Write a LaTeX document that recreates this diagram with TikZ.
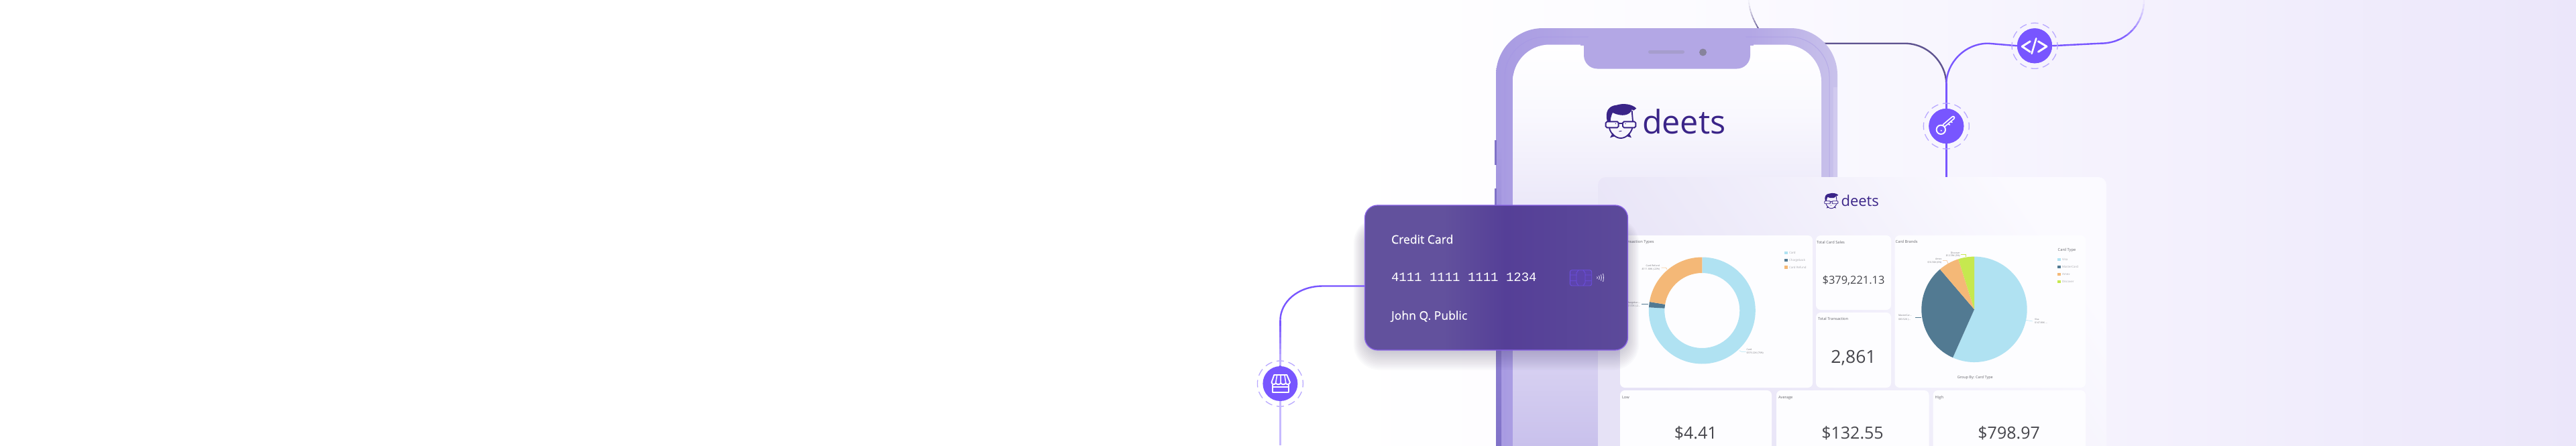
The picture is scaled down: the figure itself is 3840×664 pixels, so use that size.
\documentclass[tikz,border=0pt]{standalone}
\usepackage{fontspec}
\setmainfont{Open Sans}
\newfontfamily\monof{Liberation Mono}
\newfontfamily\cardf[FakeBold=0.3]{Open Sans}
\definecolor{bgA}{HTML}{FFFFFF}\definecolor{bgB}{HTML}{FBFAFF}\definecolor{bgC}{HTML}{F4F1FD}\definecolor{bgD}{HTML}{EBE6FA}
\definecolor{vio}{HTML}{7856FF}\definecolor{ringc}{HTML}{B9A9FF}\definecolor{darkline}{HTML}{5F5490}
\definecolor{frA}{HTML}{A89BE2}\definecolor{frB}{HTML}{B3A7E5}\definecolor{frC}{HTML}{C9C2EB}\definecolor{frE}{HTML}{8072C8}
\definecolor{scA}{HTML}{C9C1EC}\definecolor{scB}{HTML}{DCD6F3}\definecolor{scC}{HTML}{ECE9F9}\definecolor{scD}{HTML}{F9F8FE}
\definecolor{cdA}{HTML}{62519D}\definecolor{cdB}{HTML}{553F97}\definecolor{cdC}{HTML}{5C4A9A}\definecolor{cdEdge}{HTML}{8A63E8}
\definecolor{logoc}{HTML}{3A2488}\definecolor{shadowc}{HTML}{2A2050}
\definecolor{plblue}{HTML}{B0E2F2}\definecolor{pldark}{HTML}{527A92}\definecolor{plorange}{HTML}{F4B877}\definecolor{pllime}{HTML}{C6E84F}
\definecolor{ttl}{HTML}{66666C}\definecolor{valc}{HTML}{46464C}\definecolor{lgd}{HTML}{A8A8AE}\definecolor{lbl}{HTML}{77777D}
\definecolor{pnD}{HTML}{E6E2F6}\definecolor{pnL}{HTML}{FBFAFF}\definecolor{tile}{HTML}{FDFDFF}
\pgfdeclarehorizontalshading{bgshade}{100bp}{color(0bp)=(bgA);color(51bp)=(bgA);color(58.9bp)=(bgB);color(66.7bp)=(bgC);color(75bp)=(bgD);color(100bp)=(bgD)}
\pgfdeclarehorizontalshading{frameshade}{100bp}{color(0bp)=(frA);color(25bp)=(frA);color(37.9bp)=(frB);color(62.2bp)=(frB);color(75bp)=(frC);color(100bp)=(frC)}
\pgfdeclareverticalshading{screenshade}{100bp}{color(0bp)=(scA);color(25bp)=(scA);color(38.7bp)=(scB);color(55.5bp)=(scC);color(66.3bp)=(scD);color(75bp)=(white);color(100bp)=(white)}
\pgfdeclarehorizontalshading{cardshade}{100bp}{color(0bp)=(cdA);color(25bp)=(cdA);color(40bp)=(cdA);color(51.7bp)=(cdB);color(75bp)=(cdC);color(100bp)=(cdC)}
\newcommand\fsz[1]{\fontsize{#1}{#1}\selectfont}
\tikzset{
 txt/.style={inner sep=0pt,outer sep=0pt,anchor=base west},
 txtr/.style={inner sep=0pt,outer sep=0pt,anchor=base east},
 txtc/.style={inner sep=0pt,outer sep=0pt,anchor=base},
 title/.style={txt,text=ttl,font=\fsz{5.7}},
 value/.style={txtc,text=valc,font=\fsz{25}},
 legend/.style={txt,text=lgd,font=\fsz{4.4}},
 plabel/.style={text=lbl,font=\fsz{3.5}},
 conn/.style={line width=2.4pt,vio},
 icon/.style={circle,fill=vio,inner sep=0pt,minimum size=52pt},
 ring/.style={draw=ringc,line width=1.3pt,dash pattern=on 11pt off 6.8pt,dash phase=5.5pt},
 glyph/.style={draw=white,line cap=round,line join=round},
 tilebox/.style={fill=tile,rounded corners=7pt},
 cardtext/.style={txt,text=white,font=\cardf\fsz{17.6}},
}
\newcommand\deetslogo[4]{%
 \begin{scope}[shift={(#1,#2)},x=#3pt,y=-#3pt,line width=#4pt,draw=logoc,fill=logoc]
  \fill (198,154) .. controls (186,110) and (203,83) .. (240,80) .. controls (270,70) and (310,76) .. (328,95) -- (316,104) -- (308,100) .. controls (300,125) and (265,135) .. (222,114) .. controls (216,125) and (212,140) .. (212,154) -- cycle;
  \draw (308,105) -- (312,153);
  \draw[rounded corners=#4pt] (191,154) rectangle (248,181);
  \draw[rounded corners=#4pt] (267,154) rectangle (325,181);
  \draw (248,162) -- (267,162);
  \fill (235,163) circle[radius=#4pt*.4];
  \fill (279,163) circle[radius=#4pt*.4];
  \draw (207,181) .. controls (210,205) and (235,228) .. (258,228) .. controls (282,228) and (305,205) .. (310,181);
  \fill (210,226) -- (222,205) -- (233,219) -- cycle;
  \fill (306,226) -- (295,205) -- (284,219) -- cycle;
  \draw[line width=#4pt*.5] (250,198) -- (262,196);
 \end{scope}}
\newcommand\slice[6]{%
 \begin{scope}[shift={(#1,#2)},x=1pt,y=1pt]
  \fill[#6] (0,0) -- (#3:#5) arc[start angle=#3,end angle=#4,radius=#5pt] -- cycle;
 \end{scope}}
\newcommand\ringslice[7]{%
 \begin{scope}[shift={(#1,#2)},x=1pt,y=1pt]
  \fill[#7] (#3:#5) arc[start angle=#3,end angle=#4,radius=#5pt] -- (#4:#6) arc[start angle=#4,end angle=#3,radius=#6pt] -- cycle;
 \end{scope}}
\begin{document}
\begin{tikzpicture}[x=1pt,y=-1pt]
\useasboundingbox (0,0) rectangle (3840,664);
\clip (0,0) rectangle (3840,664);
\shade[shading=bgshade] (0,0) rectangle (3840,664);

\coordinate (topL) at (2606.7,0);
\coordinate (phoneTopIn) at (2622,44);
\coordinate (jn) at (2901.3,125);
\coordinate (brD) at (2838.8,64.7);
\coordinate (phoneR) at (2700,64.7);
\coordinate (brV) at (2963.8,64.7);
\coordinate (brV2) at (3131,64.7);
\coordinate (topR) at (3196,0);
\coordinate (panelTop) at (2901.3,270);
\coordinate (botL) at (1908.4,664);
\coordinate (lA) at (1908.4,478);
\coordinate (lB) at (1972,426.5);

\node[icon] (iconKey) at (2901.3,188) {};
\node[icon] (iconCode) at (3033,68.3) {};
\node[icon] (iconShop) at (1908.4,572) {};

\foreach \i/\p in {0/5,1/10,2/18,3/26,4/36,5/46,6/56,7/68,8/80,9/95}{
 \begin{scope}
 \clip (2590,\i*4.5) rectangle (2640,\i*4.5+4.6);
 \draw[line width=1.8pt,darkline!\p!bgB] (topL) .. controls (2608,18) and (2614,30) .. (phoneTopIn);
 \end{scope}}
\draw[line width=2.4pt,darkline] (jn) .. controls (2901.3,95) and (2875,64.7) .. (brD) -- (phoneR);
\draw[conn] (jn) .. controls (2901.3,95) and (2928,64.7) .. (brV) -- (iconCode.west);
\draw[conn] (iconCode.east) -- (brV2);
\foreach \i/\p in {0/6,1/12,2/20,3/30,4/42,5/55,6/68,7/82,8/92,9/100}{
 \begin{scope}
 \clip (3100,\i*6.5) rectangle (3210,\i*6.5+6.6);
 \draw[conn,vio!\p!bgC] (brV2) .. controls (3170,64.7) and (3196,35) .. (topR);
 \end{scope}}
\draw[conn] (iconKey.north) -- (jn);
\draw[conn] (iconKey.south) -- (panelTop);
\foreach \n in {iconKey,iconCode,iconShop}{\draw[ring] (\n) circle[radius=34pt];}
\node[icon] (iconKeyB) at (iconKey) {};
\node[icon] (iconCodeB) at (iconCode) {};

\draw[conn,ringc!80!white] (iconShop.south) -- (botL);

% phone frame
\begin{scope}
 \clip[rounded corners=70pt] (2230,42) rectangle (2739,1000);
 \shade[shading=frameshade] (2230,42) rectangle (2739,664);
 \shade[top color=frA,bottom color=frE] (2230,220) rectangle (2238,664);
 \fill[frB!60!white] (2733,130) rectangle (2739,664);
\end{scope}
\draw[frA!90!vio,opacity=.45,line width=1pt,rounded corners=60pt] (2243,55) rectangle (2727,1000);
\fill[frE] (2227.5,209) rectangle (2230.5,246);
\fill[frE] (2227.5,281) rectangle (2230.5,310);
\begin{scope}
 \clip[rounded corners=55pt] (2255,66.5) rectangle (2715,1000);
 \shade[shading=screenshade] (2255,66.5) rectangle (2715,664);
\end{scope}
\fill[frB,rounded corners=20pt] (2361,50) rectangle (2609,102.5);
\fill[frB] (2356,60) rectangle (2614,67.5);
\fill[frA!60!black!70!vio!60,rounded corners=2.5pt] (2457,75) rectangle (2511,80);
\fill[frA!50!black!70] (2538.5,78) circle[radius=5.5pt];
\deetslogo{2330}{130}{0.3333}{1.9}
\node[txt,text=logoc,font=\fsz{48.5}] (logoText) at (2448,199) {deets};

% dashboard panel
\begin{scope}
 \clip[rounded corners=12pt] (2382,264) rectangle (3140,1000);
 \shade[bottom color=pnD,top color=pnL,shading angle=-55] (2382,264) rectangle (3140,664);
\end{scope}
\deetslogo{2691.1}{276.6}{0.15}{0.9}
\node[txt,text=logoc,font=\fsz{22}] (logoTextB) at (2744.5,307.3) {deets};

\fill[tilebox] (2415,351) rectangle (2702,578);
\fill[tilebox] (2707,351) rectangle (2819,462);
\fill[tilebox] (2707,466) rectangle (2819,578);
\fill[tilebox] (2824.5,351) rectangle (3109,578);
\fill[tilebox] (2415,582) rectangle (2641,720);
\fill[tilebox] (2648,582) rectangle (2875.5,720);
\fill[tilebox] (2881.6,582) rectangle (3109,720);

\ringslice{2537.3}{463}{176.6}{450}{79.5}{56}{plblue}
\ringslice{2537.3}{463}{170.6}{176.6}{79.5}{56}{pldark}
\ringslice{2537.3}{463}{90}{170.6}{79.5}{56}{plorange}
\node[title] (tTypes) at (2418,362.7) {Transaction Types};
\fill[plblue] (2660.3,374.5) rectangle ++(4.4,4.4);
\fill[pldark] (2660.3,385.5) rectangle ++(4.4,4.4);
\fill[plorange] (2660.3,396.1) rectangle ++(4.4,4.4);
\node[legend] (lgA) at (2667,378.4) {Card};
\node[legend] (lgB) at (2667,389.4) {Chargeback};
\node[legend] (lgC) at (2667,400) {Card Refund};
\node[plabel,txtr] (pA) at (2474,397.5) {Card Refund};
\node[plabel,txtr] (pB) at (2474,402.5) {-\$111.68K (-22\%)};
\node[plabel,txtr] (pC) at (2444.7,452.2) {Chargebac...};
\node[plabel,txtr] (pD) at (2444.7,457.2) {\$1.57K (-2...};
\node[plabel,txt] (pE) at (2603.7,522.9) {Card};
\node[plabel,txt] (pF) at (2603.7,527.9) {\$379.22K (76\%)};
\draw[plorange,line width=.5pt] (2476.7,399) -- (2483.3,399) -- (2485,401.7);
\draw[pldark,line width=.5pt] (2447.3,453.3) -- (2457.3,453.3);
\draw[plblue,line width=.5pt] (2592.7,522.7) -- (2596.7,524.7) -- (2602.7,524.7);

\node[title] (tSales) at (2708,363) {Total Card Sales};
\node[txtc,text=valc,font=\fsz{16.4}] (vSales) at (2763,423.3) {\$379,221.13};
\node[title] (tTrans) at (2710,477.7) {Total Transaction};
\node[txtc,text=valc,font=\fsz{26.5}] (vTrans) at (2763,541) {2,861};

\slice{2943}{461.3}{246}{450}{78.7}{plblue}
\slice{2943}{461.3}{130.5}{246}{78.7}{pldark}
\slice{2943}{461.3}{107.6}{130.5}{78.7}{plorange}
\slice{2943}{461.3}{90}{107.6}{78.7}{pllime}
\node[title] (tBrands) at (2825.7,362) {Card Brands};
\node[title] (tCardType) at (3067.7,374) {Card Type};
\fill[plblue] (3067.3,384.8) rectangle ++(4.4,4.4);
\fill[pldark] (3067.3,395.8) rectangle ++(4.4,4.4);
\fill[plorange] (3067.3,406.8) rectangle ++(4.4,4.4);
\fill[pllime] (3067.3,417.8) rectangle ++(4.4,4.4);
\node[legend] (lgV) at (3074,388.7) {Visa};
\node[legend] (lgM) at (3074,399.7) {MasterCard};
\node[legend] (lgX) at (3074,410.7) {Amex};
\node[legend] (lgD) at (3074,421.7) {Discover};
\node[txtc,text=ttl,font=\fsz{5.5}] (tGroup) at (2944.3,564.3) {Group By: Card Type};
\node[plabel,txtr] (qA) at (2921.7,378.9) {Discover};
\node[plabel,txtr] (qB) at (2921.7,382.9) {\$12.78K (5\%)};
\node[plabel,txtr] (qC) at (2894.3,387.5) {Amex};
\node[plabel,txtr] (qD) at (2894.3,392.9) {\$16.50K (6\%)};
\node[plabel,txt] (qE) at (2830,471.9) {MasterCar...};
\node[plabel,txt] (qF) at (2830,477.2) {\$83.52K (...};
\node[plabel,txt] (qG) at (3033,477.2) {Visa};
\node[plabel,txt] (qH) at (3033,482.2) {\$147.86K ...};
\draw[pllime,line width=.5pt] (2922.7,379.3) -- (2930.7,379.3) -- (2930.7,383.3);
\draw[plorange,line width=.5pt] (2896,388.7) -- (2902.3,388.7) -- (2904,393.3);
\draw[pldark,line width=.5pt] (2855,473.3) -- (2864,473.3);
\draw[plblue,line width=.5pt] (3020,477.3) -- (3030,479);

\node[title] (tLow) at (2418,594) {Low};
\node[title] (tAvg) at (2651,594) {Average};
\node[title] (tHigh) at (2884.7,594) {High};
\node[value] (vLow) at (2527.7,654) {\$4.41};
\node[value] (vAvg) at (2761.5,654) {\$132.55};
\node[value] (vHigh) at (2994.6,654) {\$798.97};

% card shadow: offset downward, soft
\foreach \i in {1,...,14}{
 \fill[shadowc,opacity=.02,rounded corners=18pt+\i*1.5pt] (2040-\i*1.6,345-\i*1.5) rectangle (2421+\i*1.6,518+\i*2.4);
}
\node[shade,shading=cardshade,draw=cdEdge,line width=1.3pt,rounded corners=19pt,minimum width=392pt,minimum height=216pt,inner sep=0pt] (card) at (2230.5,414) {};
\draw[conn] (iconShop.north) -- (lA) .. controls (1908.4,450) and (1935,426.5) .. (lB) -- (card.west |- lB);
\foreach \i/\p in {0/100,1/92,2/84,3/76,4/68,5/60,6/52,7/45}{
 \draw[line width=2.4pt,vio!\p!white] (1908.4,478+\i*8.4) -- (1908.4,486.6+\i*8.4);
}
\node[cardtext] (cT) at (2074,363.3) {Credit Card};
\node[txt,text=white,font=\monof\fsz{19}] (cN) at (2074,419.3) {4111 1111 1111 1234};
\node[cardtext] (cH) at (2074,476.7) {John Q. Public};
\draw[draw=vio!70!cdB,fill=vio!20!cdB,line width=.9pt,rounded corners=3pt] (2340.3,402.7) rectangle (2372.7,426);
\draw[vio!70!cdB,line width=.8pt] (2340.3,410) -- (2350,410) (2340.3,418.7) -- (2350,418.7) (2363,410) -- (2372.7,410) (2363,418.7) -- (2372.7,418.7)
 (2353,402.7) -- (2350,407) -- (2350,421.5) -- (2353,426) (2360,402.7) -- (2363,407) -- (2363,421.5) -- (2360,426);
\foreach \x/\h in {2380.5/1.5,2383.5/3,2386.5/4.5,2389.5/6}{
 \draw[white!90!vio,line width=.8pt] (\x,414-\h) .. controls (\x+1.2,414-\h*.4) and (\x+1.2,414+\h*.4) .. (\x,414+\h);
}

% code glyph
\draw[glyph,line width=3pt] (3026.3,61.7) -- (3014.3,69.3) -- (3026.3,77.3);
\draw[glyph,line width=3pt] (3038.4,61.7) -- (3050.9,69.3) -- (3038.4,77.3);
\draw[glyph,line width=2.6pt] (3035.3,57.3) -- (3028.6,80);
% key glyph
\draw[glyph,line width=5.6pt] (2898,187) -- (2911.5,175.5);
\draw[vio,line cap=round,line width=2pt] (2898,187) -- (2911.5,175.5);
\draw[glyph,line width=1.6pt] (2904.5,185) -- (2906.5,186) (2908,181.5) -- (2910,182.5);
\fill[vio] (2893.3,193.3) circle[radius=6.7pt];
\draw[glyph,line width=1.9pt] (2893.3,193.3) circle[radius=6.7pt];
\fill[white] (2893.7,194.7) circle[radius=1.1pt];
% shop glyph
\draw[glyph,line width=1.9pt,fill=vio] (1899.3,559) -- (1918.3,559) -- (1923,570)
 .. controls (1922,574) and (1917.5,574) .. (1916.6,571)
 .. controls (1915.5,574) and (1910.5,574) .. (1909.2,571)
 .. controls (1908,574) and (1903,574) .. (1901.8,571)
 .. controls (1900.5,574) and (1896,574) .. (1895.5,570) -- cycle;
\draw[glyph,line width=1.5pt] (1903.5,560) -- (1901.8,570) (1909.2,560) -- (1909.2,570) (1915,560) -- (1916.6,570);
\draw[glyph,line width=1.9pt] (1897.3,574) -- (1897.3,585) -- (1920.7,585) -- (1920.7,574) (1897.3,577) -- (1920.7,577);
\end{tikzpicture}
\end{document}
